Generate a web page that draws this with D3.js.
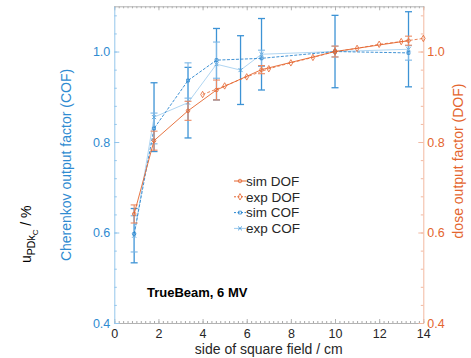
<!DOCTYPE html>
<html><head><meta charset="utf-8">
<script src="https://cdn.jsdelivr.net/npm/d3@7"></script>
<style>
body{margin:0;background:#fff}
svg{font-family:"Liberation Sans",Arial,Helvetica,sans-serif}
</style>
</head><body>
<svg id="c" width="471" height="358"></svg>
<script>
// ---- data ----
const simDofX   = [0.9, 1.8, 3.34, 4.63, 6.67, 10, 13.33];
const simDofY   = [0.641, 0.803, 0.869, 0.915, 0.960, 1.000, 1.024];
const simDofErr = [0.020, 0.021, 0.021, 0.022, 0.009, 0.012, 0.010];

const expDofX   = [4, 5, 6, 7, 8, 9, 10, 11, 12, 13, 14];
const expDofY   = [0.905, 0.924, 0.944, 0.962, 0.975, 0.987, 1.000, 1.007, 1.016, 1.022, 1.029];

const simCofX   = [0.9, 1.8, 3.34, 4.63, 6.67, 10, 13.33];
const simCofY   = [0.597, 0.830, 0.936, 0.981, 0.985, 1.000, 0.997];
const simCofErr = [0.040, 0.034, 0.039, 0.040, 0.018, 0.012, 0.016];

const expCofX   = [0.9, 1.8, 3.34, 4.63, 5.72, 6.67, 10, 13.33];
const expCofY   = [0.593, 0.855, 0.887, 0.972, 0.959, 0.994, 1.000, 1.005];
const expCofErr = [0.060, 0.076, 0.078, 0.079, 0.076, 0.079, 0.080, 0.083];

const xTicks = [0, 2, 4, 6, 8, 10, 12, 14];
const yTicks = [0.4, 0.6, 0.8, 1.0];
const legendLabels = ["sim DOF", "exp DOF", "sim COF", "exp COF"];

// ---- colours ----
const BLUE = "#2f8bd1", BLUE_AX = "#94c6ec", BLUE_LIGHT = "#9ccaee", BLUE_BAR = "#3d93d5";
const ORANGE = "#e4652e", ORANGE_AX = "#f2b9a2";

const svg = d3.select("#c");
const L = 114.3, R = 423.3, T = 6.3, B = 323;
const x = d3.scaleLinear().domain([0, 14]).range([L, R]);
const yL = d3.scaleLinear().domain([0.4, 1.1]).range([B, T]);
const yR = d3.scaleLinear().domain([0.4, 1.1]).range([B, T]);

const minorX = d3.range(0, 14.001, 0.2).map(v => +v.toFixed(2));
const minorY = d3.range(0.4, 1.1001, 0.04).map(v => +v.toFixed(2));

function styleAxis(g, col, txtCol) {
  g.select(".domain").attr("stroke", col).attr("stroke-width", 1);
  g.selectAll(".tick line").attr("stroke", col);
  g.selectAll(".tick text").attr("fill", txtCol).attr("font-size", 12.5);
}

// minor ticks
const gMB = svg.append("g").attr("transform", `translate(0,${B})`)
  .call(d3.axisBottom(x).tickValues(minorX).tickSize(-2).tickFormat(""));
gMB.select(".domain").remove(); gMB.selectAll("line").attr("stroke", "#a8a8a8");
const gMT = svg.append("g").attr("transform", `translate(0,${T})`)
  .call(d3.axisTop(x).tickValues(minorX).tickSize(-2).tickFormat(""));
gMT.select(".domain").remove(); gMT.selectAll("line").attr("stroke", "#a8a8a8");
const gML = svg.append("g").attr("transform", `translate(${L},0)`)
  .call(d3.axisLeft(yL).tickValues(minorY).tickSize(-2.5).tickFormat(""));
gML.select(".domain").remove(); gML.selectAll("line").attr("stroke", BLUE_AX);
const gMR = svg.append("g").attr("transform", `translate(${R},0)`)
  .call(d3.axisRight(yR).tickValues(minorY).tickSize(-2.5).tickFormat(""));
gMR.select(".domain").remove(); gMR.selectAll("line").attr("stroke", ORANGE_AX);

// major axes
const gB = svg.append("g").attr("transform", `translate(0,${B})`)
  .call(d3.axisBottom(x).tickValues(xTicks).tickSize(-4).tickSizeOuter(0).tickPadding(6).tickFormat(d3.format("d")));
styleAxis(gB, "#b3b3b3", "#262626");
const gT = svg.append("g").attr("transform", `translate(0,${T})`)
  .call(d3.axisTop(x).tickValues(xTicks).tickSize(-4).tickSizeOuter(0).tickFormat(""));
styleAxis(gT, "#b3b3b3", "#262626");
const gL = svg.append("g").attr("transform", `translate(${L},0)`)
  .call(d3.axisLeft(yL).tickValues(yTicks).tickSize(-5).tickSizeOuter(0).tickPadding(4).tickFormat(d3.format(".1f")));
styleAxis(gL, BLUE_AX, BLUE);
const gR = svg.append("g").attr("transform", `translate(${R},0)`)
  .call(d3.axisRight(yR).tickValues(yTicks).tickSize(-5).tickSizeOuter(0).tickPadding(4).tickFormat(d3.format(".1f")));
styleAxis(gR, ORANGE_AX, ORANGE);

// ---- series ----
const plot = svg.append("g");
const symTimes = d3.symbolTimes || d3.symbolCross;

function errorBars(xs, ys, es, col, w) {
  const g = plot.append("g").attr("stroke", col).attr("stroke-width", w).attr("fill", "none");
  xs.forEach((xv, i) => {
    const px = x(xv), y1 = yL(ys[i] + es[i]), y2 = yL(ys[i] - es[i]);
    g.append("line").attr("x1", px).attr("x2", px).attr("y1", y1).attr("y2", y2);
    g.append("line").attr("x1", px - 3.5).attr("x2", px + 3.5).attr("y1", y1).attr("y2", y1);
    g.append("line").attr("x1", px - 3.5).attr("x2", px + 3.5).attr("y1", y2).attr("y2", y2);
  });
}
function seriesLine(xs, ys, col, w, dash) {
  const line = d3.line().x(d => x(d[0])).y(d => yL(d[1]));
  plot.append("path").datum(xs.map((v, i) => [v, ys[i]]))
    .attr("d", line).attr("fill", "none").attr("stroke", col)
    .attr("stroke-width", w).attr("stroke-dasharray", dash || null);
}
function markers(xs, ys, col, type, size, rot) {
  const sym = d3.symbol().type(type).size(size);
  xs.forEach((xv, i) => {
    plot.append("path").attr("d", sym())
      .attr("transform", `translate(${x(xv)},${yL(ys[i])})` + (rot ? ` rotate(${rot})` : ""))
      .attr("fill", "none").attr("stroke", col).attr("stroke-width", 0.8);
  });
}

// exp COF (light blue, large error bars)
errorBars(expCofX, expCofY, expCofErr, BLUE_BAR, 1.3);
seriesLine(expCofX, expCofY, BLUE_LIGHT, 0.8);
markers(expCofX, expCofY, BLUE, symTimes, 12, d3.symbolTimes ? 0 : 45);

// sim COF (blue dash-dot, squares)
errorBars(simCofX, simCofY, simCofErr, "#7ab6e6", 1.1);
seriesLine(simCofX, simCofY, "#2a86cf", 0.9, "3,1.5");
markers(simCofX, simCofY, "#2a86cf", d3.symbolSquare, 8);

// sim DOF (orange solid, circles)
errorBars(simDofX, simDofY, simDofErr, "#ec8a62", 1.1);
seriesLine(simDofX, simDofY, ORANGE, 0.9);
markers(simDofX, simDofY, ORANGE, d3.symbolCircle, 10);

// exp DOF (orange dashed, diamonds)
seriesLine(expDofX, expDofY, ORANGE, 0.8, "3,2");
markers(expDofX, expDofY, ORANGE, d3.symbolDiamond, 12);

// ---- legend ----
const lg = svg.append("g");
const legendStyles = [
  {col: ORANGE, dash: null, sym: d3.symbolCircle, size: 10},
  {col: ORANGE, dash: "2,1.5", sym: d3.symbolDiamond, size: 12},
  {col: "#2a86cf", dash: "2,1.5", sym: d3.symbolSquare, size: 8},
  {col: BLUE_LIGHT, dash: null, sym: symTimes, size: 12}
];
legendLabels.forEach((lab, i) => {
  const cy = 181 + i * 15.8, st = legendStyles[i];
  lg.append("line").attr("x1", 234).attr("x2", 246).attr("y1", cy).attr("y2", cy)
    .attr("stroke", st.col).attr("stroke-width", 1).attr("stroke-dasharray", st.dash);
  lg.append("path").attr("d", d3.symbol().type(st.sym).size(st.size)())
    .attr("transform", `translate(240,${cy})`).attr("fill", "none")
    .attr("stroke", i === 3 ? BLUE : st.col).attr("stroke-width", 0.8);
  lg.append("text").attr("x", 246).attr("y", cy).attr("dy", "0.35em")
    .attr("font-size", 13.5).attr("fill", "#262626").text(lab);
});

// ---- texts ----
svg.append("text").attr("x", 147).attr("y", 297).attr("font-size", 13)
  .attr("font-weight", "bold").attr("fill", "#000").text("TrueBeam, 6 MV");

svg.append("text").attr("x", (L + R) / 2).attr("y", 354).attr("text-anchor", "middle")
  .attr("font-size", 14).attr("fill", "#262626").text("side of square field / cm");

svg.append("text").attr("transform", `translate(71,165) rotate(-90)`)
  .attr("text-anchor", "middle").attr("font-size", 14).attr("fill", BLUE)
  .text("Cherenkov output factor (COF)");

svg.append("text").attr("transform", `translate(463,161) rotate(-90)`)
  .attr("text-anchor", "middle").attr("font-size", 14).attr("fill", ORANGE)
  .text("dose output factor (DOF)");

const ul = svg.append("text").attr("transform", `translate(31,263) rotate(-90)`)
  .attr("font-size", 14).attr("fill", "#000");
ul.append("tspan").text("u");
ul.append("tspan").attr("dy", 4).attr("font-size", 10.5).text("PDk");
ul.append("tspan").attr("dy", 3).attr("font-size", 8).text("C");
ul.append("tspan").attr("dy", -7).attr("font-size", 14).text("\u00a0/ %");
</script>
</body></html>
